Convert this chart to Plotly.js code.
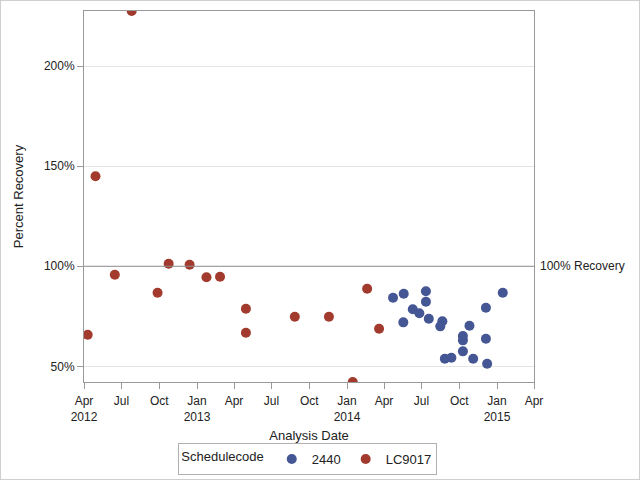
<!DOCTYPE html>
<html>
<head>
<meta charset="utf-8">
<script src="https://cdn.plot.ly/plotly-3.0.1.min.js"></script>
<style>
html,body{margin:0;padding:0;background:#fff;}
#wrap{position:relative;width:640px;height:480px;}
#chart{width:640px;height:480px;}
#frame{position:absolute;left:0;top:0;width:640px;height:480px;box-sizing:border-box;border:1px solid #cfcfcf;pointer-events:none;}
</style>
</head>
<body>
<div id="wrap"><div id="chart"></div><div id="frame"></div></div>
<script>
// Series 2440
const dates2440 = ["2014-04-23","2014-05-19","2014-05-18","2014-06-10","2014-06-26","2014-07-12","2014-07-12","2014-07-19","2014-08-21","2014-08-16","2014-08-27","2014-09-12","2014-10-10","2014-10-10","2014-10-10","2014-10-26","2014-11-04","2014-12-05","2014-12-05","2014-12-08","2015-01-15"];
const values2440 = [84.3,86.3,72.0,78.5,76.5,87.5,82.3,73.8,72.5,70.0,53.8,54.3,65.2,63.0,57.5,70.3,53.8,79.3,63.8,51.3,86.8];
// Series LC9017
const datesLC9017 = ["2012-04-10","2012-04-29","2012-06-15","2012-07-26","2012-09-27","2012-10-24","2012-12-14","2013-01-24","2013-02-26","2013-04-30","2013-04-30","2013-08-27","2013-11-18","2014-01-15","2014-02-19","2014-03-20"];
const valuesLC9017 = [65.8,145.0,95.8,227.5,86.8,101.3,100.8,94.5,94.8,78.8,66.8,74.8,74.8,42.2,88.8,68.8];
// Axis ticks
const xTickVals = ["2012-04-01","2012-07-01","2012-10-01","2013-01-01","2013-04-01","2013-07-01","2013-10-01","2014-01-01","2014-04-01","2014-07-01","2014-10-01","2015-01-01","2015-04-01"];
const xTickText = ["Apr<br>2012","Jul","Oct","Jan<br>2013","Apr","Jul","Oct","Jan<br>2014","Apr","Jul","Oct","Jan<br>2015","Apr"];
const yTickVals = [50,100,150,200];
const yTickText = ["50%","100%","150%","200%"];
const refValue = 100;
const refLabel = "100% Recovery";

const font = {family: "Liberation Sans, Arial, sans-serif", size: 12, color: "#222"};

const traces = [
  {x: dates2440, y: values2440, name: "2440", type: "scatter", mode: "markers",
   marker: {color: "#445694", size: 10}},
  {x: datesLC9017, y: valuesLC9017, name: "LC9017", type: "scatter", mode: "markers",
   marker: {color: "#A23A2E", size: 10}}
];

const layout = {
  width: 640, height: 480,
  margin: {l: 84, r: 106, t: 11, b: 98, pad: 0, autoexpand: false},
  paper_bgcolor: "#fff", plot_bgcolor: "#fff",
  font: font,
  showlegend: true,
  legend: {orientation: "h", xref: "container", x: 0.481, xanchor: "center",
    yref: "container", y: 0.077, yanchor: "top",
    bordercolor: "#b0b0b0", borderwidth: 1, font: {size: 13, color: "#222"},
    title: {text: "Schedulecode", side: "left", font: {size: 13, color: "#222"}},
    itemwidth: 30, tracegroupgap: 0},
  xaxis: {type: "date", range: ["2012-04-01","2015-04-01"],
    tickmode: "array", tickvals: xTickVals, ticktext: xTickText,
    ticks: "outside", ticklen: 6, tickcolor: "#999", showgrid: false,
    showline: true, linecolor: "#999", linewidth: 1, mirror: true, zeroline: false,
    tickfont: {size: 12, color: "#222"}, ticklabelstandoff: 2,
    title: {text: "Analysis Date", font: {size: 13, color: "#222"}, standoff: 12}},
  yaxis: {range: [42.2, 227.5], tickmode: "array", tickvals: yTickVals, ticktext: yTickText,
    ticks: "outside", ticklen: 6, tickcolor: "#999",
    showgrid: true, gridcolor: "#e4e4e4", showline: true, linecolor: "#999", linewidth: 1,
    mirror: true, zeroline: false, tickfont: {size: 12, color: "#222"},
    title: {text: "Percent Recovery", font: {size: 13, color: "#222"}, standoff: 17}},
  shapes: [{type: "line", xref: "paper", x0: 0, x1: 1, yref: "y", y0: refValue, y1: refValue,
    line: {color: "#909090", width: 1}}],
  annotations: [{xref: "paper", x: 1, xanchor: "left", xshift: 4, yref: "y", y: refValue,
    yanchor: "middle", text: refLabel, showarrow: false, font: {size: 12, color: "#222"}}]
};

Plotly.newPlot("chart", traces, layout, {displayModeBar: false, staticPlot: true});
</script>
</body>
</html>
